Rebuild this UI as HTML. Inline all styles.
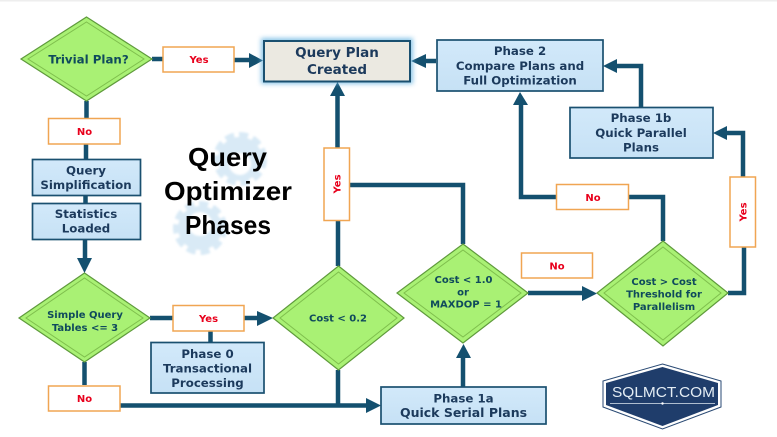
<!DOCTYPE html>
<html><head><meta charset="utf-8"><style>
html,body{margin:0;padding:0;background:#fff;width:777px;height:437px;overflow:hidden}
svg{display:block}
.b{font:bold 11.8px "DejaVu Sans",sans-serif;fill:#1c3a5c;text-anchor:middle}
.d{font:bold 10px "DejaVu Sans",sans-serif;fill:#0f4a5c;text-anchor:middle}
.l{font:bold 10px "DejaVu Sans",sans-serif;fill:#e8001c;text-anchor:middle}
.t{font:bold 26px "Liberation Sans",sans-serif;fill:#000}
.lb{fill:#fff;stroke:#f0a552;stroke-width:1.5}
.bx{fill:url(#bg);stroke:#1a5070;stroke-width:1.7}
.dm{fill:#a9f174;stroke:#5f9a3c;stroke-width:1.2}
.di{fill:none;stroke:#7fbf4d;stroke-width:1}
.c{fill:none;stroke:#14506f;stroke-width:4.5}
.a{fill:#14506f}
</style></head><body>
<svg width="777" height="437" viewBox="0 0 777 437" xmlns="http://www.w3.org/2000/svg">
<defs>
<linearGradient id="bg" x1="0" y1="0" x2="0" y2="1"><stop offset="0" stop-color="#d2e9fa"/><stop offset="1" stop-color="#c6e1f5"/></linearGradient>
<filter id="glow" x="-10%" y="-25%" width="120%" height="150%"><feGaussianBlur stdDeviation="2.5"/></filter>
<filter id="soft" x="-10%" y="-10%" width="120%" height="120%"><feGaussianBlur stdDeviation="1"/></filter>
</defs>
<rect width="777" height="437" fill="#fff"/>
<rect width="777" height="1.5" fill="#eeeeee"/>

<!-- gears -->
<g filter="url(#soft)">
<circle cx="240" cy="159" r="22" fill="#d9eaf6"/>
<circle cx="240" cy="159" r="24" fill="none" stroke="#d9eaf6" stroke-width="6" stroke-dasharray="9 5"/>
<circle cx="200" cy="228" r="22" fill="#d9eaf6"/>
<circle cx="200" cy="228" r="24" fill="none" stroke="#d9eaf6" stroke-width="6" stroke-dasharray="9 5"/>
<circle cx="240" cy="164" r="11" fill="#fff"/>
<circle cx="200" cy="224" r="12" fill="#fff"/>
</g>

<!-- connectors -->
<path class="c" d="M152 59H163M234 60H252"/>
<path class="a" d="M249 53L263 60.500L249 68Z"/>
<path class="c" d="M86.500 101V118M86 144V159M85.500 196V203M85 239V262"/>
<path class="a" d="M77 258L92 258L84.500 273Z"/>
<path class="c" d="M150 318H173M244 318H262M210.500 331V342"/>
<path class="a" d="M257 311L273 318L257 326Z"/>
<path class="c" d="M84.500 362V385M120 405.500H370M338 370V405"/>
<path class="a" d="M366 398L381 405.500L366 413Z"/>
<path class="c" d="M338 266V221M337.500 148V95"/>
<path class="a" d="M330 96L337.500 82L345 96Z"/>
<path class="c" d="M350 185H463V244"/>
<path class="c" d="M463 387V356"/>
<path class="a" d="M456 358L463.500 344L471 358Z"/>
<path class="c" d="M528 293H585"/>
<path class="a" d="M582 286L597 293.500L582 301Z"/>
<path class="c" d="M728 293H744V247M743 177V133H727"/>
<path class="a" d="M727 126L713 133L727 140Z"/>
<path class="c" d="M663 241V197H629M556 197H521V105"/>
<path class="a" d="M513 105L520 92L528 105Z"/>
<path class="c" d="M641 107V66H617"/>
<path class="a" d="M617 59L603 66L617 73Z"/>
<path class="c" d="M436 61H424"/>
<path class="a" d="M426 54L411 61L426 68Z"/>

<!-- diamonds -->
<path class="dm" d="M86.500 17L152 59L86.500 101L21 59Z"/><path class="di" d="M86.500 22L144 59L86.500 96L28 59Z"/>
<path class="dm" d="M84.500 273L150 318L84.500 362L19 318Z"/><path class="di" d="M84.500 278L143 318L84.500 357L26 318Z"/>
<path class="dm" d="M338.500 266L404 318L338.500 370L273 318Z"/><path class="di" d="M338.500 272L397 318L338.500 364L280 318Z"/>
<path class="dm" d="M463 244L528 293L463 343L397 293Z"/><path class="di" d="M463 250L521 293L463 337L404 293Z"/>
<path class="dm" d="M663 241L728 293L663 346L597 293Z"/><path class="di" d="M663 247L721 293L663 340L604 293Z"/>

<text class="d" x="88.500" y="63.500" style="font-size:11.800px">Trivial Plan?</text>
<text class="d" x="85" y="318" style="font-size:10px">Simple Query</text>
<text class="d" x="85" y="331" style="font-size:10px">Tables &lt;= 3</text>
<text class="d" x="338" y="321.500">Cost &lt; 0.2</text>
<text class="d" x="463.500" y="283">Cost &lt; 1.0</text>
<text class="d" x="463" y="295.500">or</text>
<text class="d" x="466" y="307.500">MAXDOP = 1</text>
<text class="d" x="664" y="285">Cost &gt; Cost</text>
<text class="d" x="664" y="297.500">Threshold for</text>
<text class="d" x="664" y="310">Parallelism</text>

<!-- boxes -->
<rect x="261" y="38" width="152" height="46" fill="#5fb0e0" opacity=".7" filter="url(#glow)"/>
<rect x="264" y="41" width="146" height="40.500" fill="#ebe9e1" stroke="#1a5070" stroke-width="2"/>
<text class="b" x="337" y="57" style="font-size:13.500px">Query Plan</text>
<text class="b" x="337" y="74" style="font-size:13.500px">Created</text>

<rect class="bx" x="437" y="40" width="166" height="51"/>
<text class="b" x="520" y="55">Phase 2</text>
<text class="b" x="520" y="70">Compare Plans and</text>
<text class="b" x="520" y="84.500">Full Optimization</text>

<rect class="bx" x="570" y="107.500" width="143" height="50.500"/>
<text class="b" x="641" y="122">Phase 1b</text>
<text class="b" x="641" y="137">Quick Parallel</text>
<text class="b" x="641" y="151.500">Plans</text>

<rect class="bx" x="381" y="387" width="165" height="37"/>
<text class="b" x="463.500" y="402.500">Phase 1a</text>
<text class="b" x="463.500" y="417" style="font-size:12.500px">Quick Serial Plans</text>

<rect class="bx" x="151" y="342.500" width="113" height="50.500"/>
<text class="b" x="207.500" y="358">Phase 0</text>
<text class="b" x="207.500" y="372.500">Transactional</text>
<text class="b" x="207.500" y="387">Processing</text>

<rect class="bx" x="32.500" y="159.500" width="108" height="36"/>
<text class="b" x="86" y="174.500">Query</text>
<text class="b" x="86" y="189">Simplification</text>

<rect class="bx" x="32.500" y="203.500" width="108" height="36"/>
<text class="b" x="86" y="218">Statistics</text>
<text class="b" x="86" y="232.500">Loaded</text>

<!-- labels -->
<rect class="lb" x="163" y="47" width="71" height="25"/><text class="l" x="199" y="63">Yes</text>
<rect class="lb" x="48.500" y="118.500" width="71.500" height="25.500"/><text class="l" x="84.500" y="135">No</text>
<rect class="lb" x="173" y="305.500" width="71" height="25.500"/><text class="l" x="208.500" y="322">Yes</text>
<rect class="lb" x="48.500" y="386" width="71.500" height="25"/><text class="l" x="84.500" y="402">No</text>
<rect class="lb" x="521.500" y="253" width="71" height="25"/><text class="l" x="557" y="269.500">No</text>
<rect class="lb" x="556.500" y="184.500" width="72" height="25"/><text class="l" x="593" y="201">No</text>
<rect class="lb" x="324" y="148" width="25.500" height="72.500"/><text class="l" transform="translate(340.500 184) rotate(-90)">Yes</text>
<rect class="lb" x="730" y="177" width="25.500" height="70"/><text class="l" transform="translate(746.500 212) rotate(-90)">Yes</text>

<!-- title -->
<text class="t" x="188" y="166" textLength="79" lengthAdjust="spacingAndGlyphs">Query</text>
<text class="t" x="164" y="200" textLength="128" lengthAdjust="spacingAndGlyphs">Optimizer</text>
<text class="t" x="185" y="234" textLength="86" lengthAdjust="spacingAndGlyphs">Phases</text>

<!-- logo -->
<path d="M662.500 364L721 381V407L662.500 429L603 407V381Z" fill="#fff" stroke="#2a4a74" stroke-width="1"/>
<path d="M662.500 367L718 383V405L662.500 426L606 405V383Z" fill="#1f3d6b"/>
<text x="612" y="397" fill="#e4edf4" style="font:15px 'Liberation Sans',sans-serif" textLength="103" lengthAdjust="spacingAndGlyphs">SQLMCT.COM</text>
<path d="M610 403.500H715" stroke="#dfe8f0" stroke-width=".8"/>
<circle cx="662.500" cy="403.500" r="1.200" fill="#fff"/>
</svg>
</body></html>
